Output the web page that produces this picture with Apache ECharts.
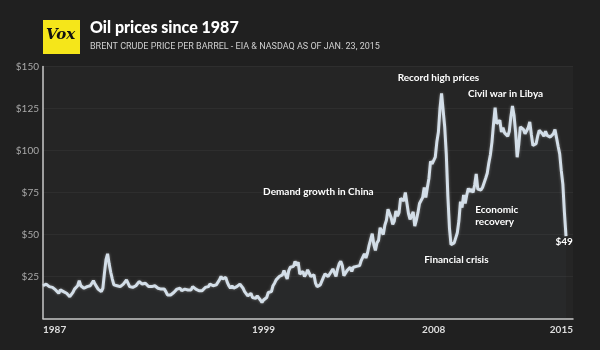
<!DOCTYPE html>
<html>
<head>
<meta charset="utf-8">
<script src="https://cdn.jsdelivr.net/npm/echarts@6/dist/echarts.min.js"></script>
<style>
html,body{margin:0;padding:0;background:#202020;}
#chart{width:600px;height:350px;}
</style>
</head>
<body>
<div id="chart"></div>
<script>
// Monthly Brent price, starting May 1987, ending Jan 2015
var startYear = 1987, startMonth = 5;
var axisEndYear = 2015.37;
var prices = [
  19.5, 19.5, 20.5, 19.5, 19, 19.3, 18.5, 17.5,
  17, 16, 15, 17, 16.5, 16, 15, 15, 14, 13, 13.5, 15.5,
  17.5, 17.5, 19.5, 22.5, 19.5, 18.5, 18, 17.5, 19, 20, 19.5, 20.5,
  22.5, 20.5, 19, 17.5, 17, 16, 18, 27, 35, 38.5, 32.5, 27.5,
  23.5, 20, 19.5, 19.5, 19.5, 19, 20, 20.5, 21, 23, 22, 19,
  18.5, 18.5, 18, 19.5, 20.5, 22, 21, 20.5, 21, 21, 20, 19,
  18, 19, 19.5, 19.5, 19, 18, 17, 17.5, 17, 17.5, 16, 14,
  14.5, 14, 14, 15.5, 16.5, 17.5, 18.5, 18, 16.5, 17, 17.5, 16.5,
  17, 17.5, 17, 19, 19, 17.5, 16.5, 16.5, 17, 16.5, 17.5, 18.5,
  18.5, 19, 20.5, 21.5, 19.5, 19, 20, 21, 23, 25, 23.5, 24.5,
  24.5, 21.5, 19.5, 18, 19.5, 18, 19, 19, 19, 20.5, 19.5, 18,
  16, 15, 13.5, 14, 15, 12.5, 12.5, 12, 13.5, 13, 11, 9.5,
  11, 10.5, 12.5, 15.5, 15.5, 16, 19.5, 21, 23, 22.5, 25, 26,
  26, 28.5, 28.5, 23.5, 28.5, 30.5, 29.5, 31, 34, 31.5, 33.5, 26.5,
  26, 28, 25, 26.5, 29, 28.5, 25, 26, 26, 21, 19, 19,
  20, 21, 24.5, 26.5, 26, 25, 26.5, 27.5, 29.5, 28.5, 25, 29.5,
  32.5, 34, 31.5, 25.5, 26.5, 28.5, 29, 30.5, 28, 30.5, 29.5, 31,
  32, 31.5, 34.5, 34.5, 38.5, 36, 39, 43.5, 44, 50.5, 44, 40.5,
  45, 46.5, 54, 53, 50, 55.5, 58.5, 65, 64, 60, 56, 58,
  64, 61, 63, 71.5, 71, 70, 75, 74, 62.5, 59, 60, 63.5,
  55, 58.5, 63, 68.5, 68.5, 72, 78, 72, 78, 83.5, 93.5, 92,
  93, 96, 105, 111, 125, 134, 134, 114, 98, 73, 54, 44,
  45, 45, 48, 51, 58, 69.5, 66, 73.5, 68.5, 73.5, 77.5, 75.5,
  77, 75, 79.5, 86, 77, 76, 76.5, 78, 79, 83.5, 86.5, 92.5,
  97.5, 105, 116, 125.5, 116, 115, 118, 111, 113.5, 110.5, 111.5, 108.5,
  111.5, 120, 126.5, 121, 111, 96, 103.5, 114, 113.5, 112.5, 110, 110.5,
  113.5, 117, 109.5, 103, 103.5, 104, 108.5, 112, 112.5, 110, 108.5, 111.5,
  109, 109.5, 108, 108.5, 110, 112.5, 107.5, 102.5, 98, 88, 80, 63,
  49
];
var yTicks = [25, 50, 75, 100, 125, 150];
var xTickYears = [1999, 2008];
var notes = [
  {text: 'Record high prices', x: 2008.25, y: 143},
  {text: 'Civil war in Libya', x: 2011.8, y: 134},
  {text: 'Demand growth in China', x: 2001.9, y: 75.5},
  {text: 'Financial crisis', x: 2009.2, y: 35},
  {text: '$49', x: 2014.9, y: 45.5}
];
var noteLeft = [{text: 'Economic\nrecovery', x: 2010.2, y: 61}];

var t0 = startYear + (startMonth - 1) / 12;
var seriesData = prices.map(function (p, i) { return [t0 + i / 12, p]; });

var markData = notes.map(function (n) {
  return {coord: [n.x, n.y], value: n.text,
    label: {show: true, position: 'inside', formatter: n.text}};
}).concat(noteLeft.map(function (n) {
  return {coord: [n.x, n.y], value: n.text,
    label: {show: true, position: 'right', distance: 0, align: 'left', formatter: n.text, lineHeight: 12}};
}));

var chart = echarts.init(document.getElementById('chart'), null, {renderer: 'canvas'});
chart.setOption({
  backgroundColor: '#202020',
  animation: false,
  grid: {left: 43, right: 27, top: 66.5, bottom: 31.5, show: true, backgroundColor: '#252525', borderWidth: 0},
  graphic: [
    {type: 'rect', left: 43, top: 20, shape: {width: 37, height: 34}, style: {fill: '#f5e61a'}},
    {type: 'text', left: 46, top: 28, style: {text: 'Vox', fill: '#111', font: 'italic bold 15px "DejaVu Serif"'}},
    {type: 'text', left: 90, top: 20, style: {text: 'Oil prices since 1987', fill: '#ffffff', font: '900 16px Lato'}},
    {type: 'text', left: 90, top: 42, style: {text: 'BRENT CRUDE PRICE PER BARREL - EIA & NASDAQ AS OF JAN. 23, 2015', fill: '#d0d0d0', font: '9px Roboto'}}
  ],
  xAxis: {
    type: 'value', min: t0, max: axisEndYear,
    splitLine: {show: false},
    axisTick: {show: false},
    axisLine: {show: true, lineStyle: {color: '#c8c8c8', width: 1.5}},
    axisLabel: {
      customValues: [t0].concat(xTickYears).concat([axisEndYear]),
      formatter: function (v) { return String(Math.floor(v + 0.01)); },
      color: '#dddddd', fontFamily: 'Lato', fontWeight: 'bold', fontSize: 10, margin: 6,
      alignMinLabel: 'left', alignMaxLabel: 'right'
    }
  },
  yAxis: {
    type: 'value', min: 0, max: 150, interval: 25,
    axisLine: {show: true, lineStyle: {color: '#c8c8c8', width: 1.5}},
    axisTick: {show: false},
    splitLine: {show: true, lineStyle: {color: '#2e2e2e', width: 1}},
    axisLabel: {
      color: '#a8a8a8', fontFamily: 'Lato', fontSize: 10, margin: 4,
      formatter: function (v) { return yTicks.indexOf(v) >= 0 ? '$' + v : ''; }
    }
  },
  series: [{
    type: 'line', data: seriesData, showSymbol: false, symbol: 'none',
    lineStyle: {color: '#d3dee8', width: 3, shadowColor: 'rgba(255,255,255,0.35)', shadowBlur: 3},
    areaStyle: {color: 'rgba(110,140,170,0.06)'},
    markPoint: {
      symbol: 'circle', symbolSize: 0,
      label: {color: '#ffffff', fontFamily: 'Lato', fontWeight: 'bold', fontSize: 10},
      data: markData
    }
  }]
});
</script>
</body>
</html>
